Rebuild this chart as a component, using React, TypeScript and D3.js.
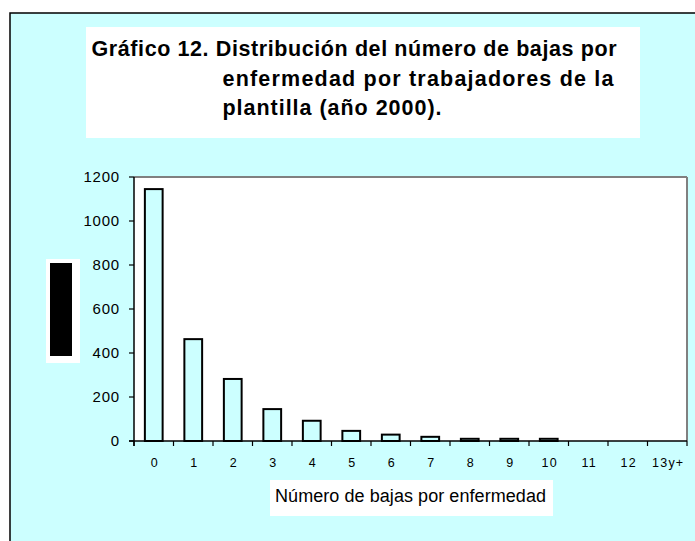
import React from "react";
import * as d3 from "d3";

const categories = ["0", "1", "2", "3", "4", "5", "6", "7", "8", "9", "10", "11", "12", "13y+"];
const values = [1145, 463, 282, 145, 92, 46, 29, 19, 10, 10, 10, 0, 0, 0];
const yTicks = [0, 200, 400, 600, 800, 1000, 1200];
const titleLines = [
  "Gráfico 12. Distribución del número de bajas por",
  "enfermedad por trabajadores de la",
  "plantilla (año 2000).",
];
const xTitle = "Número de bajas por enfermedad";

const W = 695;
const H = 541;
const BG = "#CCFFFF";
const FONT = "'Liberation Sans', Arial, Helvetica, sans-serif";

export default function App() {
  const plot = { left: 134, right: 687, top: 177, bottom: 441 };
  const x = d3
    .scaleBand<string>()
    .domain(categories)
    .range([plot.left, plot.right])
    .paddingInner(0.5)
    .paddingOuter(0.25);
  const y = d3.scaleLinear().domain([0, 1200]).range([plot.bottom, plot.top]);
  const step = x.step();
  const boundaries = d3.range(categories.length + 1).map((i) => plot.left + i * step);

  return (
    <svg
      width={W}
      height={H}
      style={{ position: "absolute", left: 0, top: 0, display: "block" }}
      fontFamily={FONT}
    >
      <rect x={0} y={0} width={W} height={H} fill="#ffffff" />
      <rect x={10} y={13} width={W + 20} height={H + 20} fill={BG} stroke="#000" strokeWidth={1.5} />

      {/* Title box */}
      <rect x={86} y={27} width={554} height={111} fill="#ffffff" />
      <text x={91.5} y={56} fontSize={21.5} fontWeight="bold" fill="#000" textLength={525} lengthAdjust="spacing">
        {titleLines[0]}
      </text>
      <text x={222.5} y={86} fontSize={21.5} fontWeight="bold" fill="#000" textLength={391} lengthAdjust="spacing">
        {titleLines[1]}
      </text>
      <text x={222.5} y={115} fontSize={21.5} fontWeight="bold" fill="#000" textLength={219} lengthAdjust="spacing">
        {titleLines[2]}
      </text>

      {/* Plot area */}
      <rect x={plot.left} y={plot.top} width={plot.right - plot.left} height={plot.bottom - plot.top} fill="#ffffff" />
      <line x1={plot.left} x2={plot.right} y1={plot.top} y2={plot.top} stroke="#808080" strokeWidth={2} />
      <line x1={plot.right} x2={plot.right} y1={plot.top} y2={plot.bottom} stroke="#808080" strokeWidth={2} />

      {/* Bars */}
      {values.map((v, i) => {
        const bx = x(categories[i])!;
        const top = y(v);
        if (v <= 0) return null;
        return (
          <rect
            key={i}
            x={bx + 1}
            y={top}
            width={x.bandwidth() - 2}
            height={plot.bottom - top}
            fill={BG}
            stroke="#000"
            strokeWidth={2}
          />
        );
      })}

      {/* Axes */}
      <line x1={plot.left} x2={plot.left} y1={plot.top} y2={plot.bottom + 5} stroke="#000" strokeWidth={1.5} />
      <line x1={plot.left - 5} x2={plot.right} y1={plot.bottom} y2={plot.bottom} stroke="#000" strokeWidth={1.5} />
      {yTicks.map((t) => (
        <g key={t}>
          <line x1={plot.left - 5} x2={plot.left} y1={y(t)} y2={y(t)} stroke="#000" strokeWidth={1.2} />
          <text
            x={120}
            y={y(t)}
            dy="0.36em"
            textAnchor="end"
            fontSize={15}
            letterSpacing={0.8}
            fill="#000"
          >
            {t}
          </text>
        </g>
      ))}
      {boundaries.map((bx, i) => (
        <line key={i} x1={bx} x2={bx} y1={plot.bottom} y2={plot.bottom + 5} stroke="#000" strokeWidth={1.2} />
      ))}
      {categories.map((c) => (
        <text
          key={c}
          x={x(c)! + x.bandwidth() / 2 + 1}
          y={467}
          textAnchor="middle"
          fontSize={12.5}
          letterSpacing={1.2}
          fill="#000"
        >
          {c}
        </text>
      ))}

      {/* X axis title */}
      <rect x={270} y={480} width={283} height={36} fill="#ffffff" />
      <text x={275} y={502} fontSize={18} fill="#000" textLength={271} lengthAdjust="spacing">
        {xTitle}
      </text>

      {/* Y axis title (rendered as a dark block in the reference) */}
      <rect x={46} y={259} width={34} height={104} fill="#ffffff" />
      <rect x={50} y={263} width={22} height={93} fill="#000" />
    </svg>
  );
}
